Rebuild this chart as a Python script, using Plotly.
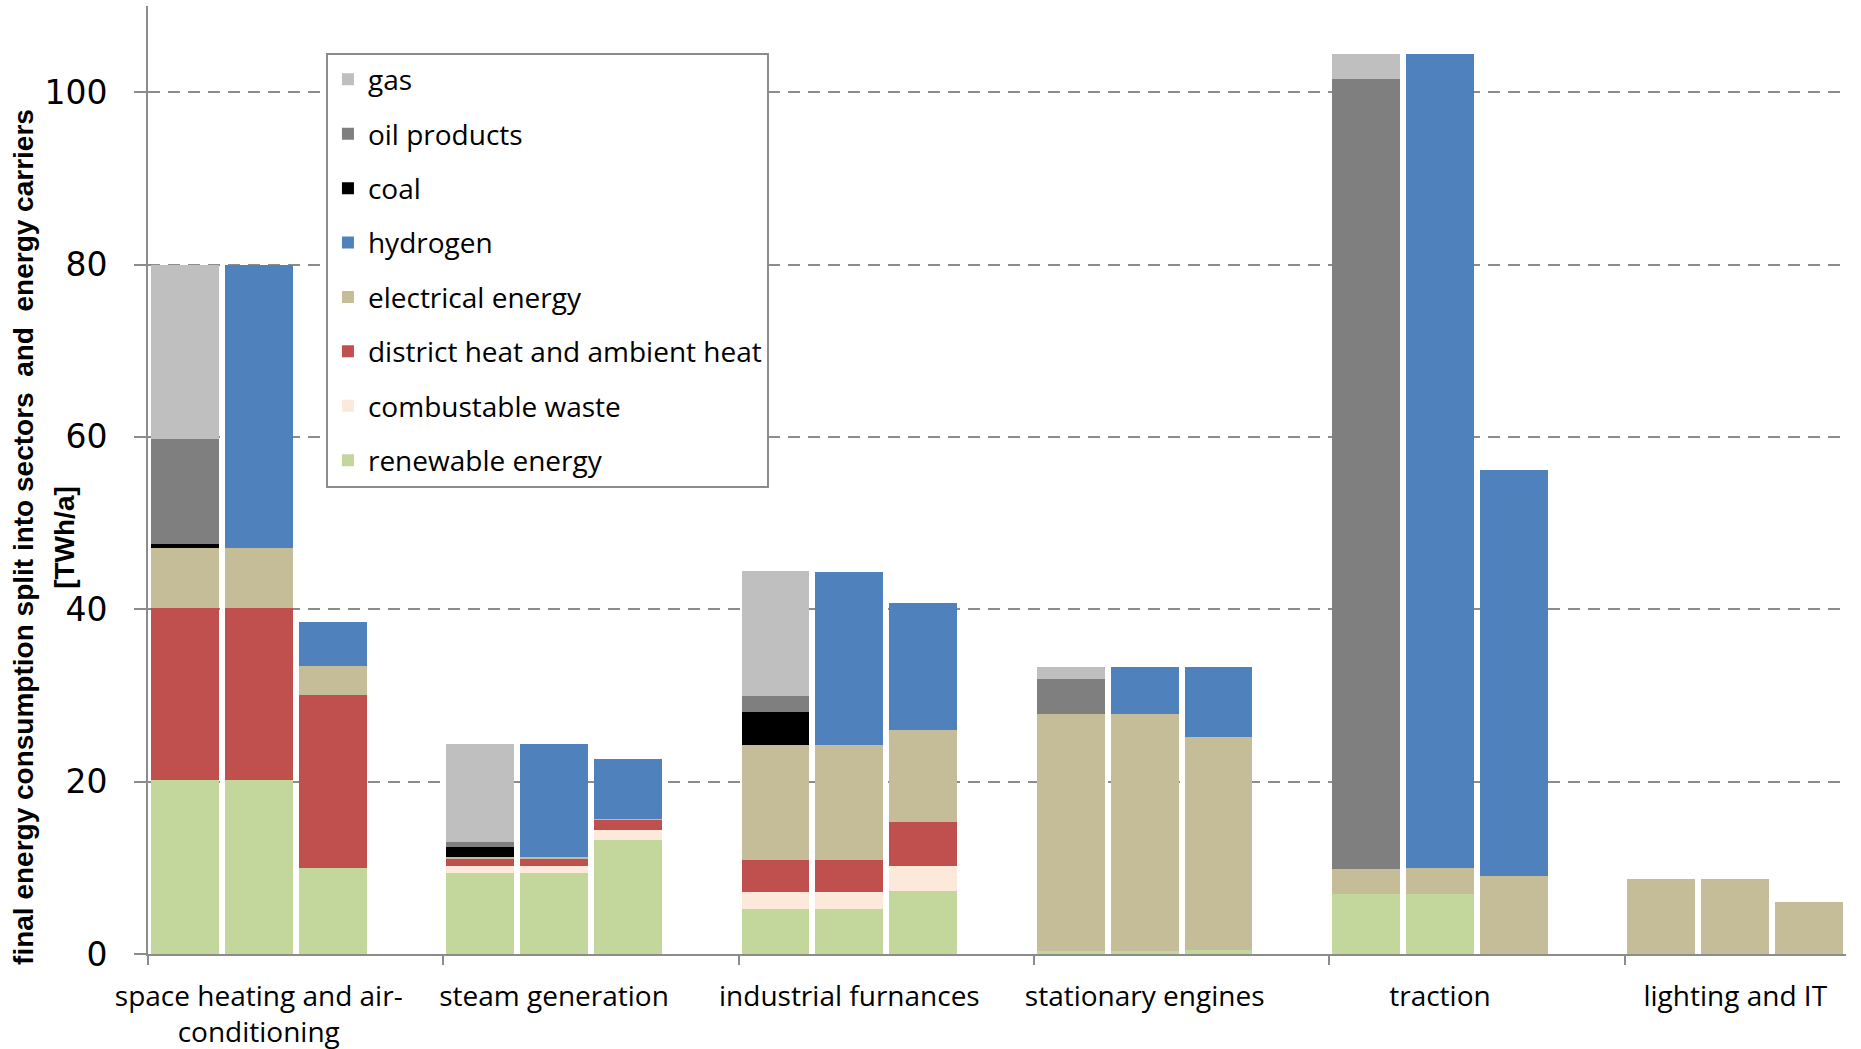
import plotly.graph_objects as go

# Sectors (each shows three scenario bars)
sectors = [
    "space heating and air-<br>conditioning",
    "steam generation",
    "industrial furnances",
    "stationary engines",
    "traction",
    "lighting and IT",
]

# Energy carriers, values in TWh/a: 3 scenarios per sector, sector by sector
renewable = [20.2, 20.2, 10.0,  9.4, 9.4, 13.2,  5.2, 5.2, 7.3,  0.3, 0.3, 0.5,  7.0, 7.0, 0.0,  0.0, 0.0, 0.0]
waste     = [0.0, 0.0, 0.0,  0.85, 0.85, 1.2,  2.05, 2.05, 2.9,  0.0, 0.0, 0.0,  0.0, 0.0, 0.0,  0.0, 0.0, 0.0]
district  = [19.9, 19.9, 20.0,  0.8, 0.8, 1.15,  3.7, 3.7, 5.1,  0.0, 0.0, 0.0,  0.0, 0.0, 0.0,  0.0, 0.0, 0.0]
electric  = [7.0, 7.0, 3.4,  0.25, 0.25, 0.15,  13.3, 13.3, 10.7,  27.6, 27.6, 24.7,  2.9, 3.0, 9.0,  8.7, 8.7, 6.0]
hydrogen  = [0.0, 32.9, 5.1,  0.0, 13.1, 6.95,  0.0, 20.1, 14.7,  0.0, 5.4, 8.1,  0.0, 94.4, 47.2,  0.0, 0.0, 0.0]
coal      = [0.45, 0.0, 0.0,  1.15, 0.0, 0.0,  3.85, 0.0, 0.0,  0.0, 0.0, 0.0,  0.0, 0.0, 0.0,  0.0, 0.0, 0.0]
oil       = [12.2, 0.0, 0.0,  0.55, 0.0, 0.0,  1.85, 0.0, 0.0,  4.0, 0.0, 0.0,  91.6, 0.0, 0.0,  0.0, 0.0, 0.0]
gas       = [20.2, 0.0, 0.0,  11.4, 0.0, 0.0,  14.45, 0.0, 0.0,  1.4, 0.0, 0.0,  2.9, 0.0, 0.0,  0.0, 0.0, 0.0]

# stacking order: bottom first
series = [
    ("renewable energy", renewable, "#C3D69B"),
    ("combustable waste", waste, "#FDE9D9"),
    ("district heat and ambient heat", district, "#C0504D"),
    ("electrical energy", electric, "#C4BD97"),
    ("hydrogen", hydrogen, "#4F81BD"),
    ("coal", coal, "#000000"),
    ("oil products", oil, "#7F7F7F"),
    ("gas", gas, "#BFBFBF"),
]

N_SCEN = 3
SLOTS = 4  # three scenario bars plus one empty slot per sector
xpos = [g * SLOTS + s for g in range(len(sectors)) for s in range(N_SCEN)]

fig = go.Figure()
for k, (name, vals, color) in enumerate(series):
    fig.add_trace(go.Bar(
        x=xpos, y=vals, name=name, legendgroup=name,
        legendrank=len(series) - k,  # top of the stack listed first
        marker=dict(color=color, line=dict(width=0)),
        width=0.92,
    ))

AXIS_GRAY = "#8c8c8c"
TITLE_FONT = dict(family="Liberation Sans", size=28, color="#000000")
fig.update_layout(
    width=1861, height=1049,
    margin=dict(l=148, r=15, t=6, b=95),
    barmode="stack",
    paper_bgcolor="white", plot_bgcolor="white",
    showlegend=True,
    legend=dict(
        x=0.1048, y=0.9508, xanchor="left", yanchor="top",
        bgcolor="white", bordercolor=AXIS_GRAY, borderwidth=2,
        font=dict(family="Open Sans", size=28, color="#000000"),
        traceorder="grouped", tracegroupgap=15,
    ),
    xaxis=dict(
        range=[-0.5, len(sectors) * SLOTS - 1.5],
        automargin=False,
        tickmode="array",
        tickvals=[g * SLOTS + 1 for g in range(len(sectors))],
        ticktext=sectors,
        ticks="outside", ticklen=16, tickcolor="rgba(0,0,0,0)",
        tickfont=dict(family="Open Sans", size=28, color="#000000"),
        showline=True, linecolor=AXIS_GRAY, linewidth=2,
        showgrid=False, zeroline=False,
        minor=dict(
            tickmode="array",
            tickvals=[g * SLOTS - 0.5 for g in range(len(sectors))],
            ticks="outside", ticklen=9, tickwidth=2, tickcolor=AXIS_GRAY,
            showgrid=False,
        ),
    ),
    yaxis=dict(
        range=[0, 110],
        automargin=False,
        tickmode="array", tickvals=[0, 20, 40, 60, 80, 100],
        ticks="outside", ticklen=12, tickwidth=2, tickcolor=AXIS_GRAY,
        ticklabelstandoff=20,
        tickfont=dict(family="DejaVu Sans", size=33, color="#000000"),
        showline=True, linecolor=AXIS_GRAY, linewidth=2,
        showgrid=True, gridcolor=AXIS_GRAY, gridwidth=2, griddash="12px,8px",
        zeroline=False,
    ),
    annotations=[
        dict(
            text="<b>final energy consumption split into sectors\u00a0\u00a0and\u00a0\u00a0energy carriers</b>",
            xref="paper", yref="paper", x=-0.073, y=0.44,
            xanchor="center", yanchor="middle", textangle=-90, showarrow=False,
            font=TITLE_FONT,
        ),
        dict(
            text="<b>[TWh/a]</b>",
            xref="paper", yref="paper", x=-0.0489, y=0.44,
            xanchor="center", yanchor="middle", textangle=-90, showarrow=False,
            font=TITLE_FONT,
        ),
    ],
)

fig.write_html("out.html")
